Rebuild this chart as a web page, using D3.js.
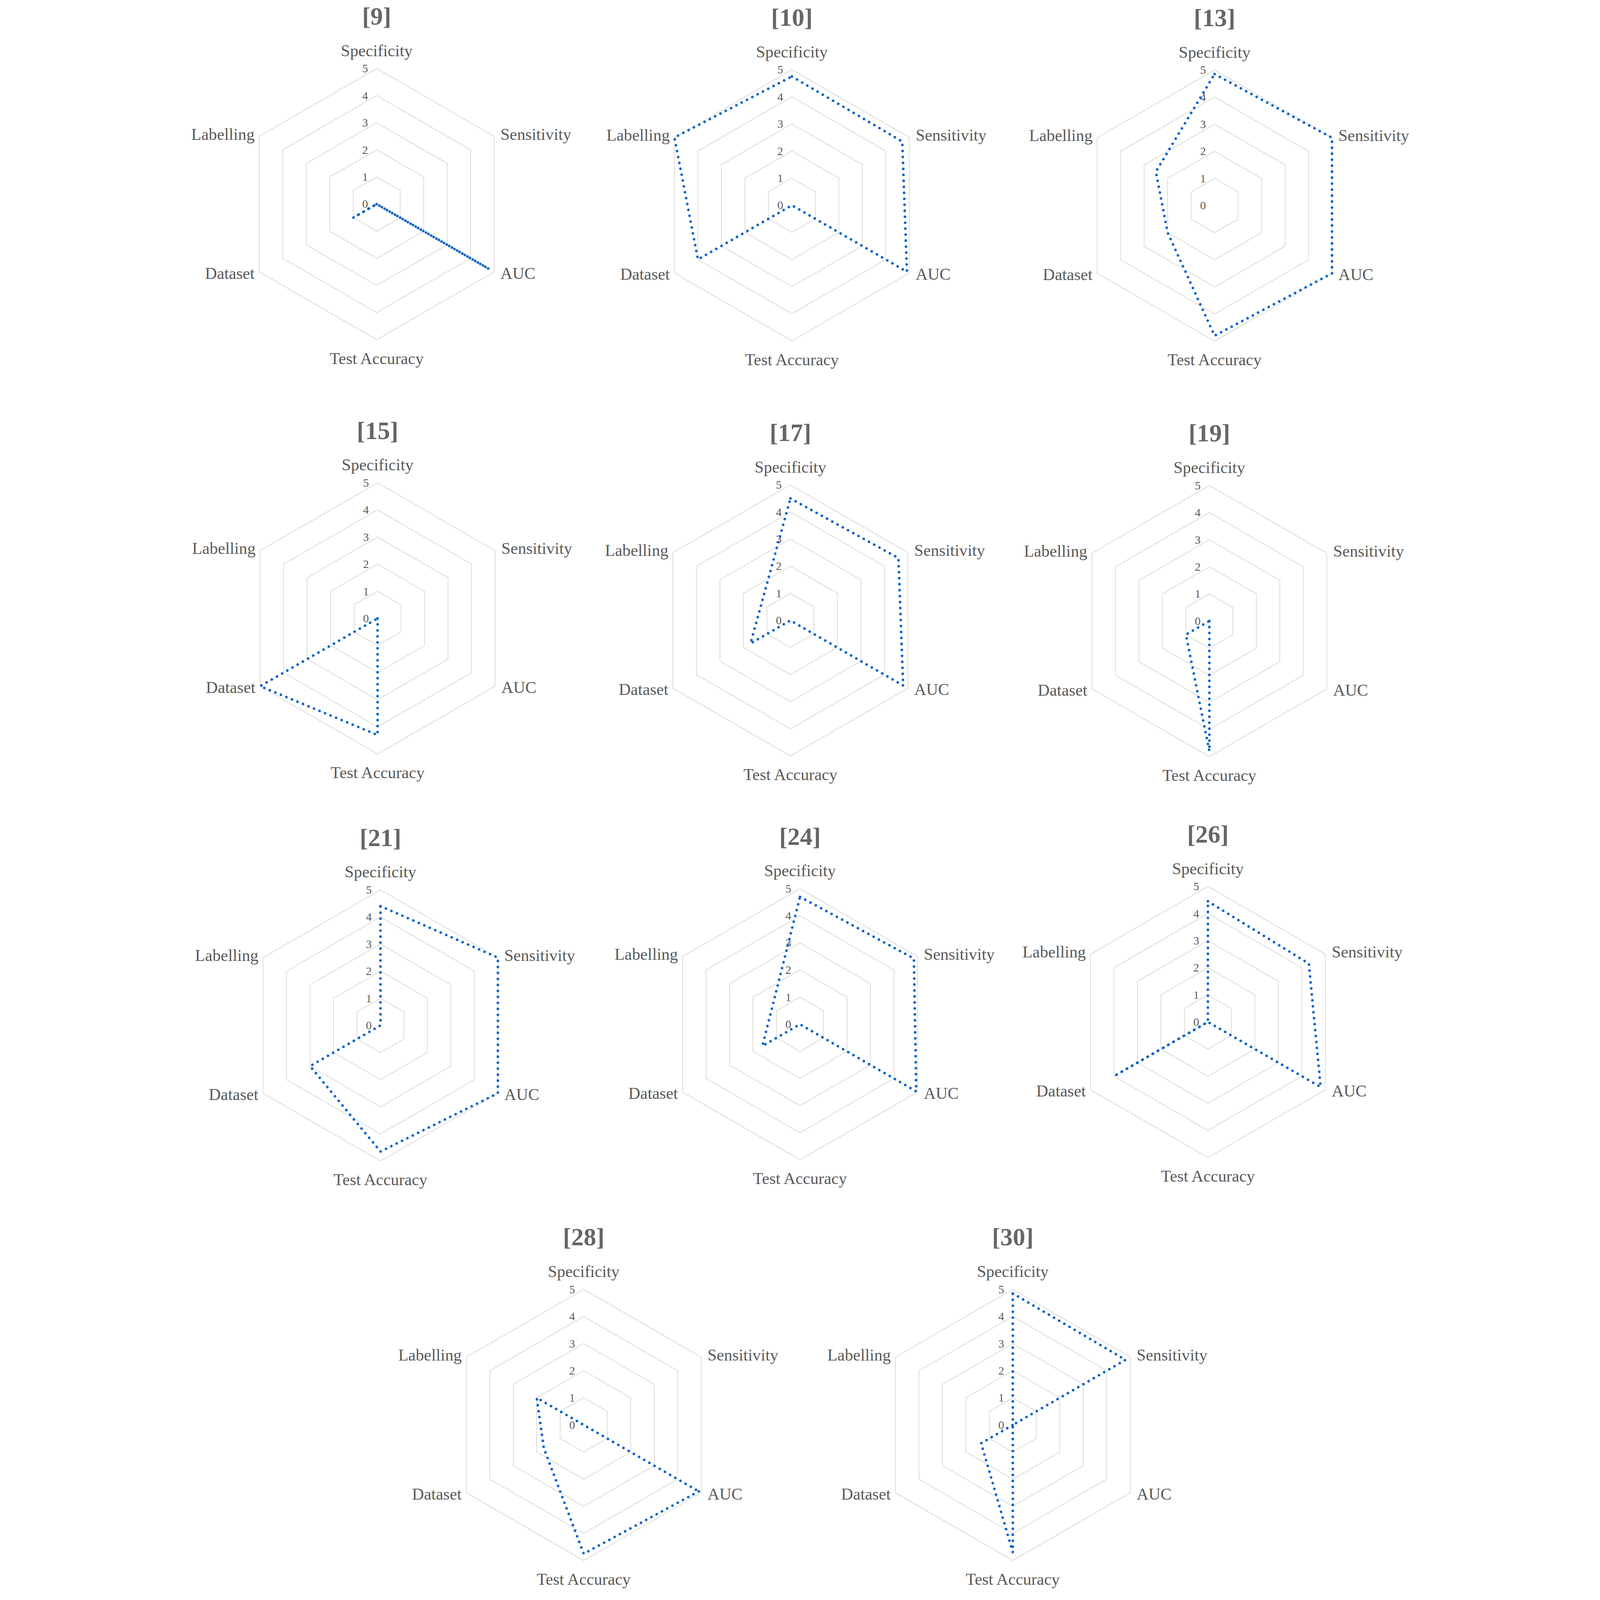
<!DOCTYPE html>
<html>
<head>
<meta charset="utf-8">
<script src="https://cdn.jsdelivr.net/npm/d3@7"></script>
<style>
  html, body { margin: 0; padding: 0; background: #fff; overflow: hidden; }
  svg { display: block; width: 100vw; height: 100vh; }
  text { font-family: "Liberation Serif", "DejaVu Serif", serif; }
</style>
</head>
<body>
<script>
let width = 4250;
let height = 5511;

// data (null = no value, line skips that axis)
let axes = ['Specificity', 'Sensitivity', 'AUC', 'Test Accuracy', 'Dataset', 'Labelling'];
let refs = ['[9]', '[10]', '[13]', '[15]', '[17]', '[19]', '[21]', '[24]', '[26]', '[28]', '[30]'];
let specificity  = [0,   4.75, 4.85, 0,   4.5,  0,   4.4,  4.7,  4.45, null, 4.85];
let sensitivity  = [0,   4.7,  5,    0,   4.6,  0,   5,    4.85, 4.3,  null, 4.8];
let auc          = [4.8, 4.9,  5,    0,   4.8,  0,   5,    4.95, 4.8,  4.9,  0];
let testAccuracy = [0,   0,    4.8,  4.3, 0,    4.8, 4.65, 0,    0,    4.75, 4.7];
let dataset      = [1,   4,    2,    5,   1.7,  1,   3,    1.6,  4,    1.7,  1.35];
let labelling    = [0,   5,    2.5,  0,   null, 0,   0,    null, 0,    2,    0];
let ticks = [0, 1, 2, 3, 4, 5];

let series = [specificity, sensitivity, auc, testAccuracy, dataset, labelling];

// where each small chart sits on the page
let centers = [
  [667, 703], [2097, 707], [3553, 708],
  [670, 2130], [2092, 2137], [3535, 2139],
  [680, 3532], [2125, 3528], [3530, 3520],
  [1380, 4908], [2858, 4908]
];

let R = 467;
let rScale = d3.scaleLinear().domain([0, 5]).range([0, R]);
let angle = function(i) { return i * 2 * Math.PI / axes.length; };

let svg = d3.select('body').append('svg')
            .attr('viewBox', '0 0 ' + width + ' ' + height)
            .attr('preserveAspectRatio', 'xMidYMid meet');

svg.append('rect').attr('width', width).attr('height', height).attr('fill', '#fff');

let ringLine = d3.lineRadial()
                .angle(function(d, i) { return angle(i); })
                .radius(function(d) { return rScale(d); })
                .curve(d3.curveLinearClosed);

let valueLine = d3.lineRadial()
                .angle(function(d) { return angle(d.axis); })
                .radius(function(d) { return rScale(d.value); })
                .curve(d3.curveLinearClosed);

refs.forEach(function(ref, k) {
    let g = svg.append('g')
               .attr('transform', 'translate(' + centers[k][0] + ',' + centers[k][1] + ')');

    // title
    g.append('text')
        .attr('x', 0)
        .attr('y', -R - 180)
        .attr('text-anchor', 'middle')
        .attr('dominant-baseline', 'central')
        .attr('font-size', 86)
        .attr('font-weight', 'bold')
        .attr('fill', '#666666')
        .text(ref);

    // hexagon rings
    g.selectAll('path.ring')
        .data(ticks.slice(1))
        .enter()
        .append('path')
        .attr('class', 'ring')
        .attr('d', function(t) { return ringLine(axes.map(function() { return t; })); })
        .attr('fill', 'none')
        .attr('stroke', '#d9d9d9')
        .attr('stroke-width', 2.5);

    // tick labels along the top axis
    g.selectAll('text.tick')
        .data(ticks)
        .enter()
        .append('text')
        .attr('class', 'tick')
        .attr('x', -30)
        .attr('y', function(t) { return -rScale(t); })
        .attr('text-anchor', 'end')
        .attr('dominant-baseline', 'central')
        .attr('font-size', 40)
        .attr('fill', '#595959')
        .text(function(t) { return t; });

    // axis labels
    g.selectAll('text.axis')
        .data(axes)
        .enter()
        .append('text')
        .attr('class', 'axis')
        .attr('x', function(d, i) {
            let s = Math.sin(angle(i));
            if (Math.abs(s) < 0.01) return 0;
            return R * s + (s > 0 ? 22 : -16);
        })
        .attr('y', function(d, i) {
            let c = -Math.cos(angle(i));
            if (Math.abs(Math.sin(angle(i))) < 0.01) return R * c + (c > 0 ? 64 : -62);
            return R * c + (c < 0 ? -8 : 4);
        })
        .attr('text-anchor', function(d, i) {
            let s = Math.sin(angle(i));
            if (Math.abs(s) < 0.01) return 'middle';
            return s > 0 ? 'start' : 'end';
        })
        .attr('dominant-baseline', 'central')
        .attr('font-size', 57)
        .attr('fill', '#595959')
        .text(function(d) { return d; });

    // the series line, round blue dots
    let pts = series.map(function(s, i) { return { axis: i, value: s[k] }; })
                    .filter(function(d) { return d.value !== null; });

    g.append('path')
        .attr('d', valueLine(pts))
        .attr('fill', 'none')
        .attr('stroke', '#0a64c8')
        .attr('stroke-width', 9)
        .attr('stroke-linecap', 'round')
        .attr('stroke-dasharray', '0.1 20.5');
});
</script>
</body>
</html>
